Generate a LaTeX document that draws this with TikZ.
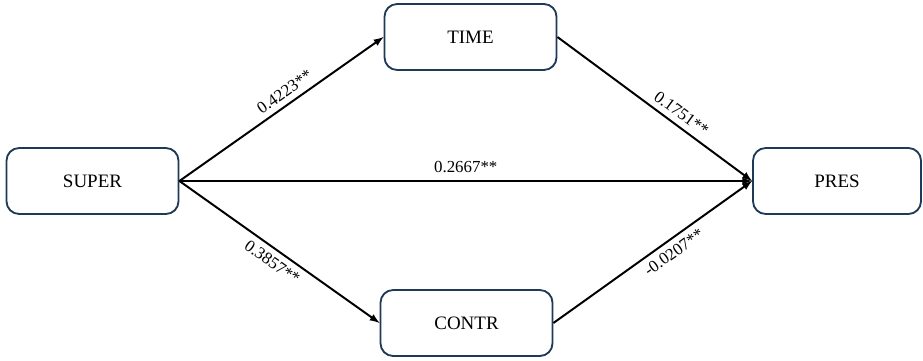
\documentclass[tikz,border=0pt]{standalone}
\usepackage{fontspec}
\setmainfont{Liberation Serif}
\usetikzlibrary{arrows}
\definecolor{boxline}{HTML}{1F3A56}
\tikzset{
    varbox/.style={draw=boxline, line width=1.3pt, rounded corners=9pt, fill=white,
        minimum width=4.3cm, minimum height=1.65cm, font=\fontsize{13.5}{15}\selectfont},
    path/.style={line width=1.4pt, -latex},
    coef/.style={font=\fontsize{12}{14}\selectfont, sloped, inner sep=4pt}
}
\begin{document}
\begin{tikzpicture}
            \useasboundingbox (0, 0) rectangle (23.075, 9);
            \node[varbox] (super) at (2.3125, 4.475) {SUPER}; % Predictor
            \node[varbox] (time) at (11.7625, 8.075) {TIME}; % Mediator 1
            \node[varbox] (contr) at (11.6625, 0.925) {CONTR}; % Mediator 2
            \node[varbox, minimum width=4.2cm] (pres) at (20.925, 4.475) {PRES}; % Outcome
            \draw[path] (super.east) -- (time.west) node[coef, pos=0.55, above] {0.4223**};
            \draw[path] (super.east) -- (contr.west) node[coef, pos=0.5, below] {0.3857**};
            \draw[path] (super.east) -- (pres.west) node[coef, midway, above, yshift=1pt] {0.2667**};
            \draw[path] (time.east) -- (pres.west) node[coef, pos=0.6, above] {0.1751**};
            \draw[path] (contr.east) -- (pres.west) node[coef, pos=0.57, below] {-0.0207**};
        \end{tikzpicture}
\end{document}
